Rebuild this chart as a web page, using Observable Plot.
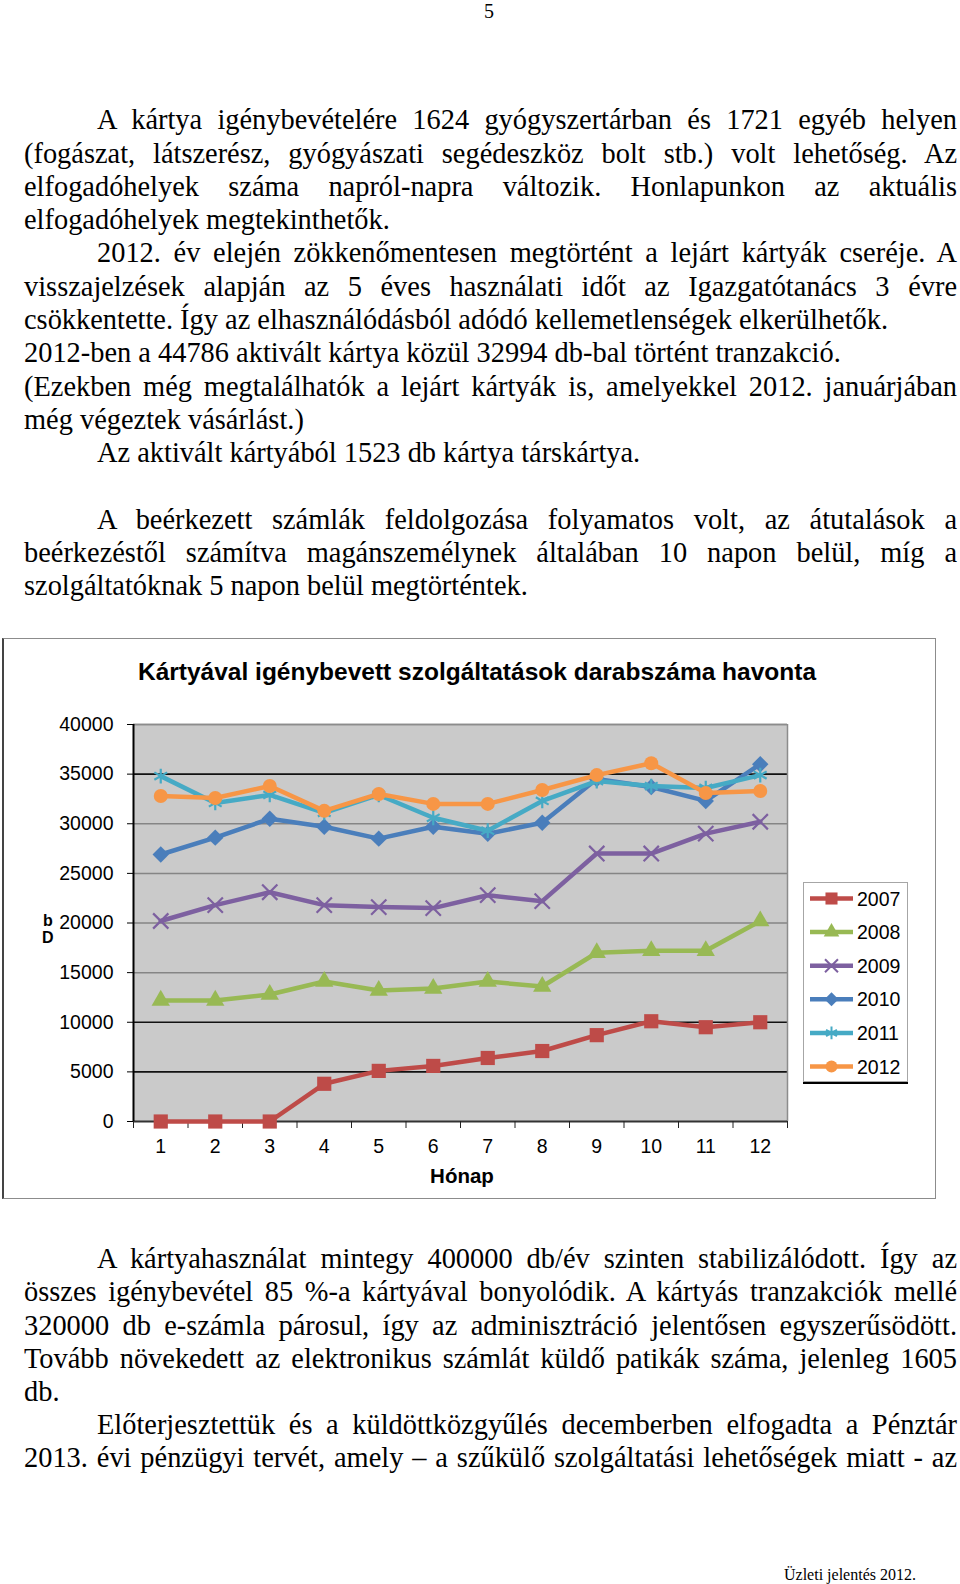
<!DOCTYPE html>
<html><head><meta charset="utf-8">
<script src="https://cdn.jsdelivr.net/npm/d3@7"></script>
<script src="https://cdn.jsdelivr.net/npm/@observablehq/plot@0.6"></script>
<style>
html,body{margin:0;padding:0;background:#fff;}
#page{position:relative;width:960px;height:1584px;overflow:hidden;background:#fff;color:#000;}
.t{position:absolute;font-family:"Liberation Serif","Times New Roman",serif;font-size:28.4px;line-height:1;white-space:nowrap;}
.j{text-align:justify;text-align-last:justify;white-space:normal;}
.s{position:absolute;font-family:"Liberation Sans",Arial,sans-serif;line-height:1;white-space:nowrap;}
</style></head>
<body><div id="page"></div>
<script>
// ---------- data ----------
const months = [1,2,3,4,5,6,7,8,9,10,11,12];
const years = ["2007","2008","2009","2010","2011","2012"];
const s2007 = [0,0,0,3800,5100,5600,6400,7100,8700,10100,9500,10000];
const s2008 = [12200,12200,12800,14100,13200,13400,14100,13600,17000,17200,17200,20200];
const s2009 = [20200,21800,23100,21800,21600,21500,22800,22200,27000,27000,29000,30200];
const s2010 = [26900,28600,30500,29700,28500,29700,29000,30100,34500,33700,32300,36000];
const s2011 = [34800,32100,32900,31100,32900,30600,29300,32300,34300,33800,33600,34900];
const s2012 = [32800,32600,33800,31300,33000,32000,32000,33400,34900,36100,33100,33300];
const yTicks = [0,5000,10000,15000,20000,25000,30000,35000,40000];
const chartTitle = "Kártyával igénybevett szolgáltatások darabszáma havonta";
const xTitle = "Hónap";
const yTitleTop = "b", yTitleBottom = "D";

const topLines = [
  ["A kártya igénybevételére 1624 gyógyszertárban és 1721 egyéb helyen", 1, 1],
  ["(fogászat, látszerész, gyógyászati segédeszköz bolt stb.) volt lehetőség. Az", 0, 1],
  ["elfogadóhelyek száma napról-napra változik. Honlapunkon az aktuális", 0, 1],
  ["elfogadóhelyek megtekinthetők.", 0, 0],
  ["2012. év elején zökkenőmentesen megtörtént a lejárt kártyák cseréje. A", 1, 1],
  ["visszajelzések alapján az 5 éves használati időt az Igazgatótanács 3 évre", 0, 1],
  ["csökkentette. Így az elhasználódásból adódó kellemetlenségek elkerülhetők.", 0, 0],
  ["2012-ben a 44786 aktivált kártya közül 32994 db-bal történt tranzakció.", 0, 0],
  ["(Ezekben még megtalálhatók a lejárt kártyák is, amelyekkel 2012. januárjában", 0, 1],
  ["még végeztek vásárlást.)", 0, 0],
  ["Az aktivált kártyából 1523 db kártya társkártya.", 1, 0],
  null,
  ["A beérkezett számlák feldolgozása folyamatos volt, az átutalások a", 1, 1],
  ["beérkezéstől számítva magánszemélynek általában 10 napon belül, míg a", 0, 1],
  ["szolgáltatóknak 5 napon belül megtörténtek.", 0, 0]
];
const bottomLines = [
  ["A kártyahasználat mintegy 400000 db/év szinten stabilizálódott. Így az", 1, 1],
  ["összes igénybevétel 85 %-a kártyával bonyolódik. A kártyás tranzakciók mellé", 0, 1],
  ["320000 db e-számla párosul, így az adminisztráció jelentősen egyszerűsödött.", 0, 1],
  ["Tovább növekedett az elektronikus számlát küldő patikák száma, jelenleg 1605", 0, 1],
  ["db.", 0, 0],
  ["Előterjesztettük és a küldöttközgyűlés decemberben elfogadta a Pénztár", 1, 1],
  ["2013. évi pénzügyi tervét, amely – a szűkülő szolgáltatási lehetőségek miatt - az", 0, 1]
];
const pageNumber = "5";
const footer = "Üzleti jelentés 2012.";

// ---------- styles ----------
const seriesStyle = {
  "2007": {color:"#BE4B48", symbol:"square",   r:8,   filled:true},
  "2008": {color:"#98B954", symbol:"triangle", r:6.8, filled:true},
  "2009": {color:"#7D60A0", symbol:"times",    r:7,   filled:false},
  "2010": {color:"#4A7EBB", symbol:"diamond2", r:7.4, filled:true},
  "2011": {color:"#46AAC5", symbol:"asterisk", r:7,   filled:false},
  "2012": {color:"#F79646", symbol:"circle",   r:7,   filled:true}
};
const darkGrid = [5000,10000,35000];

const page = document.getElementById("page");
const SERIF_B = 0.8375, SANS_B = 0.8465;

function serifLine(str, left, baseline, justify, size=28.4, right=957){
  const d = document.createElement("div");
  d.className = "t" + (justify ? " j" : "");
  d.style.fontSize = size + "px";
  d.style.left = left + "px";
  d.style.top = (baseline - SERIF_B*size) + "px";
  if (justify) d.style.width = (right - left) + "px";
  d.textContent = str;
  page.appendChild(d);
}
function sansText(str, x, baseline, size, opts={}){
  const d = document.createElement("div");
  d.className = "s";
  d.style.fontSize = size + "px";
  d.style.top = (baseline - SANS_B*size) + "px";
  if (opts.bold) d.style.fontWeight = "bold";
  d.style.left = x + "px";
  if (opts.center) d.style.transform = "translateX(-50%)";
  d.textContent = str;
  page.appendChild(d);
}

// page texts
const pn = document.createElement("div");
pn.className = "t"; pn.style.fontSize = "20px"; pn.style.left = "489px";
pn.style.transform = "translateX(-50%)"; pn.style.top = (18 - SERIF_B*20) + "px";
pn.textContent = pageNumber; page.appendChild(pn);

topLines.forEach((l, i) => {
  if (!l) return;
  serifLine(l[0], l[1] ? 97 : 24, 130 + i*33.3, !!l[2]);
});
bottomLines.forEach((l, i) => {
  serifLine(l[0], l[1] ? 97 : 24, 1269 + i*33.2, !!l[2]);
});
serifLine(footer, 784, 1580, false, 16);

// chart border
const border = document.createElement("div");
Object.assign(border.style, {position:"absolute", left:"2px", top:"638px", width:"934px", height:"561px",
  boxSizing:"border-box", border:"1.5px solid #8c8c8c", borderLeft:"2px solid #444"});
page.appendChild(border);

// ---------- chart ----------
const seriesVals = [s2007, s2008, s2009, s2010, s2011, s2012];
const data = years.flatMap((y, i) => seriesVals[i].map((v, j) => ({year:y, month:months[j], value:v})));
const bounds = d3.range(0.5, 13, 1);

const marks = [
  Plot.frame({fill:"#cacaca", stroke:"none"}),
  Plot.ruleY(yTicks.filter(v => v > 0 && !darkGrid.includes(v)), {stroke:"#858585", strokeWidth:1.5}),
  Plot.ruleY(darkGrid, {stroke:"#111", strokeWidth:1.6}),
  Plot.ruleX([12.5], {stroke:"#8c8c8c", strokeWidth:1.5}),
  Plot.ruleY([40000], {stroke:"#8c8c8c", strokeWidth:1.5}),
  Plot.ruleY([0], {stroke:"#333", strokeWidth:2}),
  Plot.ruleX([0.5], {stroke:"#000", strokeWidth:2}),
  Plot.axisY({ticks:yTicks, tickSize:6, tickPadding:14, tickFormat:d => String(d), label:null, stroke:"#000"}),
  Plot.axisX({ticks:months, tickSize:0, tickPadding:18, tickFormat:d => String(d), label:null}),
  Plot.axisX({ticks:bounds, tickSize:7, tickFormat:() => "", label:null, stroke:"#222"})
];
years.forEach(y => {
  const st = seriesStyle[y];
  const rows = data.filter(d => d.year === y);
  marks.push(Plot.line(rows, {x:"month", y:"value", stroke:st.color, strokeWidth:4.5, strokeLinejoin:"round"}));
  marks.push(Plot.dot(rows, st.filled
    ? {x:"month", y:"value", symbol:st.symbol, r:st.r, fill:st.color, stroke:"none"}
    : {x:"month", y:"value", symbol:st.symbol, r:st.r, fill:"none", stroke:st.color, strokeWidth:2.2}));
});

const chart = Plot.plot({
  width:960, height:561,
  marginLeft:133, marginRight:173, marginTop:86, marginBottom:78,
  x:{type:"linear", domain:[0.5, 12.5]},
  y:{type:"linear", domain:[0, 40000]},
  style:{background:"transparent", fontFamily:"'Liberation Sans', Arial, sans-serif", fontSize:"19.5px", color:"#000", overflow:"visible"},
  marks
});
const holder = document.createElement("div");
Object.assign(holder.style, {position:"absolute", left:"0px", top:"638px"});
holder.appendChild(chart);
page.appendChild(holder);

// chart texts
sansText(chartTitle, 477, 681, 24.5, {bold:true, center:true});
sansText(xTitle, 462, 1183, 20.5, {bold:true, center:true});
sansText(yTitleTop, 43, 927, 16, {bold:true});
sansText(yTitleBottom, 42, 944, 16, {bold:true});

// legend
const symMap = {square:d3.symbolSquare, triangle:d3.symbolTriangle, times:d3.symbolTimes,
  diamond2:d3.symbolDiamond2, asterisk:d3.symbolAsterisk, circle:d3.symbolCircle};
const lg = d3.select(page).append("svg")
  .style("position","absolute").style("left","803px").style("top","882px")
  .attr("width",106).attr("height",203);
lg.append("rect").attr("x",0.5).attr("y",0.5).attr("width",104).attr("height",199)
  .attr("fill","#fff").attr("stroke","#a6a6a6");
lg.append("line").attr("x1",0).attr("x2",105).attr("y1",201).attr("y2",201).attr("stroke","#000").attr("stroke-width",2);
years.forEach((y, i) => {
  const st = seriesStyle[y];
  const cy = 16.5 + i*33.6;
  lg.append("line").attr("x1",7).attr("x2",50).attr("y1",cy).attr("y2",cy)
    .attr("stroke",st.color).attr("stroke-width",4.5);
  const sz = Math.PI * (st.r*0.85) * (st.r*0.85);
  const p = lg.append("path").attr("transform",`translate(28.5,${cy})`)
    .attr("d", d3.symbol(symMap[st.symbol], sz)());
  if (st.filled) p.attr("fill", st.color);
  else p.attr("fill","none").attr("stroke", st.color).attr("stroke-width",2);
  lg.append("text").attr("x",54).attr("y",cy+7)
    .attr("font-family","'Liberation Sans', Arial, sans-serif").attr("font-size",19.5)
    .attr("fill","#000").text(y);
});
</script>
</body></html>
